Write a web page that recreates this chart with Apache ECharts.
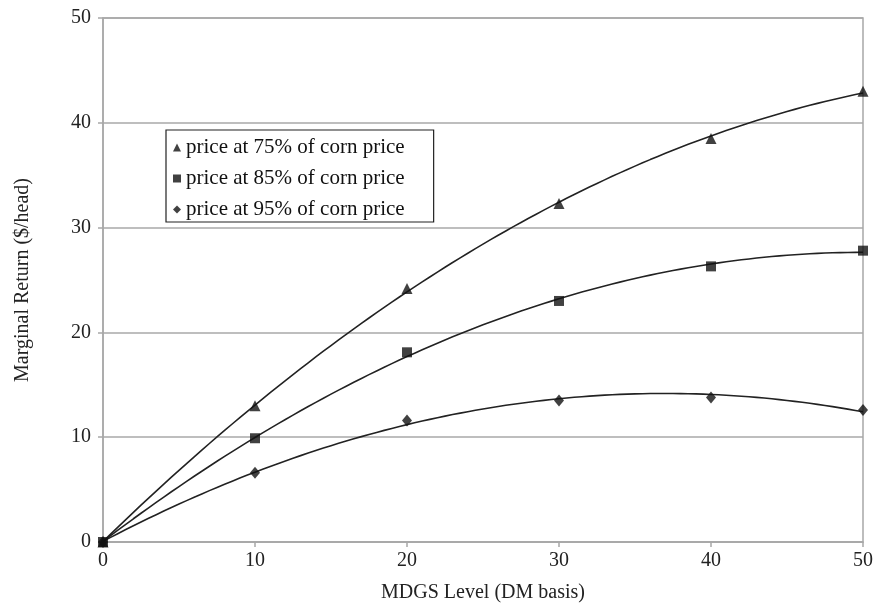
<!DOCTYPE html>
<html><head><meta charset="utf-8">
<script src="https://cdn.jsdelivr.net/npm/echarts@6/dist/echarts.min.js"></script>
<style>html,body{margin:0;padding:0;background:#fff}#c{width:876px;height:608px}</style>
</head><body><div id="c"></div>
<script>
const xLevels = [0, 10, 20, 30, 40, 50];
const seriesNames = ['price at 75% of corn price', 'price at 85% of corn price', 'price at 95% of corn price'];
const p75 = [0, 13.0, 24.2, 32.3, 38.5, 43.0];
const p85 = [0, 9.9, 18.1, 23.0, 26.3, 27.8];
const p95 = [0, 6.6, 11.6, 13.5, 13.8, 12.6];
const symbols = ['triangle', 'rect', 'diamond'];
const symbolSizes = [11, 10, [10, 12]];

// least-squares quadratic trendline computed from the data
function quadFit(xs, ys) {
  let n = xs.length, S = [0,0,0,0,0], T = [0,0,0];
  for (let i = 0; i < n; i++) {
    let x = xs[i], y = ys[i];
    for (let k = 0; k < 5; k++) S[k] += Math.pow(x, k);
    for (let k = 0; k < 3; k++) T[k] += y * Math.pow(x, k);
  }
  const A = [[S[0],S[1],S[2],T[0]],[S[1],S[2],S[3],T[1]],[S[2],S[3],S[4],T[2]]];
  for (let i = 0; i < 3; i++) {
    let p = A[i][i];
    for (let j = i; j < 4; j++) A[i][j] /= p;
    for (let r = 0; r < 3; r++) if (r !== i) {
      let f = A[r][i];
      for (let j = i; j < 4; j++) A[r][j] -= f * A[i][j];
    }
  }
  return [A[0][3], A[1][3], A[2][3]];
}
function trend(ys) {
  const c = quadFit(xLevels, ys);
  const out = [];
  for (let x = xLevels[0]; x <= xLevels[xLevels.length-1] + 1e-9; x += 0.5) out.push([x, c[0] + c[1]*x + c[2]*x*x]);
  return out;
}
const all = [p75, p85, p95];
const series = [];
all.forEach((ys, i) => {
  series.push({
    type: 'line', data: trend(ys), showSymbol: false, symbol: 'none', silent: true,
    lineStyle: {color: '#222', width: 1.6}, z: 2
  });
});
all.forEach((ys, i) => {
  series.push({
    name: seriesNames[i], type: 'scatter', symbol: symbols[i], symbolSize: symbolSizes[i],
    data: xLevels.map((x, j) => [x, ys[j]]), itemStyle: {color: '#111'}, z: 3
  });
});
const font = 'Liberation Serif';
const chart = echarts.init(document.getElementById('c'));
chart.setOption({
  animation: false,
  textStyle: {fontFamily: font},
  grid: {left: 103, right: 10, top: 18, bottom: 63, show: true, borderColor: '#a8a8a8', borderWidth: 1.5},
  legend: {
    data: seriesNames.map((n, i) => ({name: n, icon: symbols[i]})),
    orient: 'vertical', left: 166, top: 130, itemWidth: 8, itemHeight: 8, itemGap: 10,
    padding: [7, 29, 2, 7], borderColor: '#222', borderWidth: 1.2, backgroundColor: '#fff',
    textStyle: {fontFamily: font, fontSize: 21, color: '#111'},
    selectedMode: false
  },
  xAxis: {
    type: 'value', min: 0, max: 50, interval: 10,
    name: 'MDGS Level (DM basis)', nameLocation: 'middle', nameGap: 41,
    nameTextStyle: {fontFamily: font, fontSize: 20, color: '#222'},
    axisLine: {lineStyle: {color: '#a8a8a8', width: 1.5}},
    axisTick: {show: true, length: 5, lineStyle: {color: '#a8a8a8', width: 1.5}},
    axisLabel: {fontFamily: font, fontSize: 20, color: '#222', margin: 9},
    splitLine: {show: false}
  },
  yAxis: {
    type: 'value', min: 0, max: 50, interval: 10,
    name: 'Marginal Return ($/head)', nameLocation: 'middle', nameGap: 70,
    nameTextStyle: {fontFamily: font, fontSize: 20, color: '#222'},
    axisLine: {show: true, lineStyle: {color: '#a8a8a8', width: 1.5}},
    axisTick: {show: true, length: 5, lineStyle: {color: '#a8a8a8', width: 1.5}},
    axisLabel: {fontFamily: font, fontSize: 20, color: '#222', margin: 12},
    splitLine: {show: true, lineStyle: {color: '#a8a8a8', width: 1.5}}
  },
  series: series
});
</script></body></html>
